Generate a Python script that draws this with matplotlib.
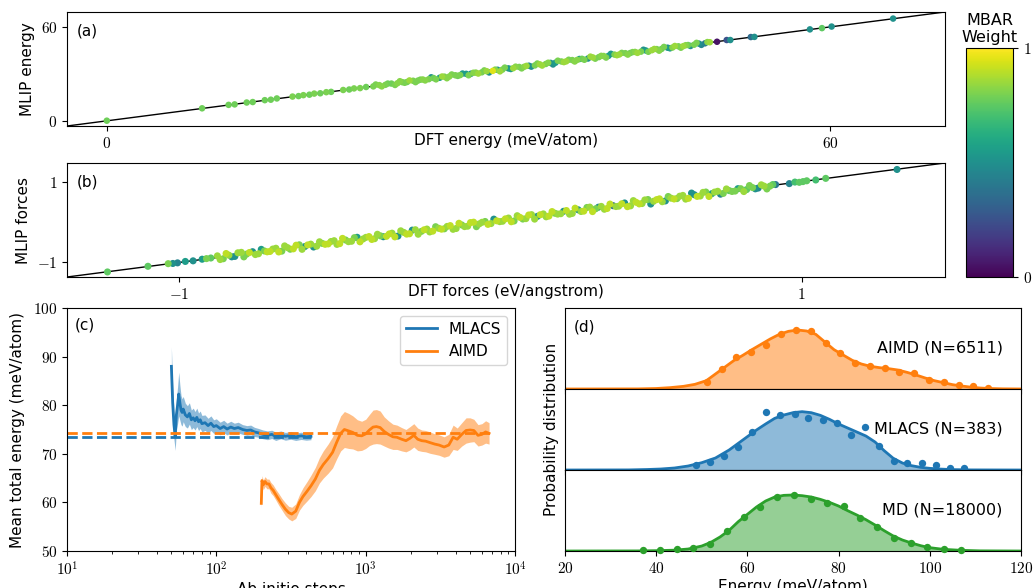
import math
import matplotlib
matplotlib.use("Agg")
import matplotlib.pyplot as plt
from matplotlib.ticker import FuncFormatter, NullFormatter
from matplotlib.cm import ScalarMappable
from matplotlib.colors import Normalize

plt.rcParams["font.family"] = "DejaVu Sans"
plt.rcParams["mathtext.fontset"] = "cm"
plt.rcParams["font.size"] = 11

# ---- (a) energies, meV/atom ----
energy_dft = [
    0.0, 7.9, 10.1, 10.6, 11.6, 12.1, 13.1, 13.6, 14.1, 15.4,
    15.9, 16.3, 16.8, 17.2, 17.7, 18.2, 18.6, 19.6, 20.1, 20.5,
    21.0, 21.5, 22.1, 22.6, 23.1, 23.6, 24.1, 24.5, 24.9, 25.4,
    25.8, 26.2, 26.7, 27.1, 27.6, 28.0, 28.4, 28.9, 29.3, 29.8,
    30.2, 30.6, 31.1, 31.5, 32.0, 32.4, 32.8, 33.3, 33.7, 34.2,
    34.6, 35.0, 35.5, 35.9, 36.4, 36.8, 37.2, 37.7, 38.1, 38.6,
    39.0, 39.4, 39.9, 40.3, 40.8, 41.2, 41.6, 42.1, 42.5, 43.0,
    43.4, 43.8, 44.3, 44.7, 45.2, 45.6, 46.0, 46.5, 46.9, 47.4,
    47.8, 48.2, 48.7, 49.1, 49.6, 50.0, 50.6, 51.4, 51.7, 53.4,
    53.7, 58.3, 59.3, 60.1, 65.2,
    22.3, 22.8, 23.3, 23.9, 24.3, 24.7, 25.1, 25.6, 26.0, 26.4,
    26.9, 27.3, 27.8, 28.2, 28.6, 29.1, 29.5, 30.0, 30.4, 30.8,
    31.3, 31.7, 32.2, 32.6, 33.0, 33.5, 33.9, 34.4, 34.8, 35.2,
    35.7, 36.1, 36.6, 37.0, 37.4, 37.9, 38.3, 38.8, 39.2, 39.6,
    40.1, 40.5, 41.0, 41.4, 41.8, 42.3, 42.7, 43.2, 43.6, 44.0,
    44.5, 44.9, 45.4, 45.8, 46.2, 46.7, 47.1, 47.6, 48.0, 48.4,
    48.9, 49.3, 49.8,
]
energy_mlip = [
    0.1, 8.0, 10.2, 10.5, 11.7, 12.0, 13.2, 13.5, 14.3, 15.5,
    15.8, 16.4, 16.7, 17.4, 17.6, 18.3, 18.5, 19.7, 20.0, 20.7,
    20.9, 21.6, 22.0, 22.8, 23.0, 23.8, 24.0, 24.7, 24.8, 25.6,
    25.7, 26.4, 26.6, 27.3, 27.5, 28.2, 28.3, 29.1, 29.2, 30.0,
    30.1, 30.8, 31.0, 31.7, 31.9, 32.6, 32.7, 33.5, 33.6, 34.4,
    34.5, 35.2, 35.4, 36.1, 36.3, 37.0, 37.1, 37.9, 38.0, 38.8,
    38.9, 39.6, 39.8, 40.5, 40.7, 41.4, 41.5, 42.3, 42.4, 43.2,
    43.3, 44.0, 44.2, 44.9, 45.1, 45.8, 45.9, 46.7, 46.8, 47.6,
    47.7, 48.4, 48.6, 49.3, 49.5, 50.2, 50.5, 51.6, 51.6, 53.5,
    53.6, 58.4, 59.2, 60.2, 65.3,
    23.2, 22.0, 23.8, 22.9, 25.3, 24.3, 25.8, 24.7, 26.3, 25.8,
    27.8, 26.5, 28.3, 27.2, 29.6, 28.7, 30.2, 29.1, 30.7, 30.2,
    32.2, 30.9, 32.7, 31.6, 34.0, 33.1, 34.6, 33.5, 35.1, 34.6,
    36.6, 35.3, 37.1, 36.0, 38.4, 37.5, 39.0, 37.9, 39.5, 39.0,
    41.0, 39.7, 41.5, 40.4, 42.8, 41.9, 43.4, 42.3, 43.9, 43.4,
    45.4, 44.1, 45.9, 44.8, 47.2, 46.3, 47.8, 46.7, 48.3, 47.8,
    49.8, 48.5, 50.3,
]
energy_weight = [
    0.78, 0.78, 0.78, 0.78, 0.78, 0.78, 0.78, 0.78, 0.78, 0.80,
    0.78, 0.80, 0.78, 0.80, 0.78, 0.80, 0.78, 0.80, 0.78, 0.80,
    0.80, 0.78, 0.80, 0.82, 0.80, 0.78, 0.82, 0.80, 0.78, 0.80,
    0.80, 0.82, 0.80, 0.78, 0.55, 0.80, 0.82, 0.80, 0.80, 0.55,
    0.50, 0.82, 0.80, 0.85, 0.95, 0.50, 0.80, 0.50, 0.85, 0.80,
    0.82, 0.50, 0.80, 0.85, 0.80, 0.50, 0.55, 0.80, 0.85, 0.80,
    0.82, 0.78, 0.50, 0.85, 0.80, 0.82, 0.55, 0.80, 0.85, 0.80,
    0.78, 0.82, 0.80, 0.55, 0.85, 0.80, 0.78, 0.50, 0.82, 0.80,
    0.85, 0.78, 0.80, 0.50, 0.40, 0.85, 0.05, 0.25, 0.50, 0.35,
    0.50, 0.50, 0.75, 0.50, 0.50,
    0.80, 0.82, 0.78, 0.80, 0.82, 0.80, 0.85, 0.80, 0.78, 0.82,
    0.50, 0.80, 0.85, 0.82, 0.80, 0.78, 0.55, 0.80, 0.82, 0.85,
    0.80, 0.50, 0.82, 0.85, 0.80, 0.55, 0.82, 0.80, 0.85, 0.50,
    0.80, 0.85, 0.82, 0.50, 0.80, 0.85, 0.80, 0.82, 0.55, 0.80,
    0.85, 0.80, 0.82, 0.80, 0.55, 0.85, 0.80, 0.82, 0.80, 0.85,
    0.50, 0.80, 0.85, 0.82, 0.80, 0.55, 0.85, 0.80, 0.82, 0.50,
    0.80, 0.45, 0.82,
]

# ---- (b) forces, eV/angstrom ----
force_dft = [
    -1.230, -1.100, -1.035, -1.020, -1.005, -0.980, -0.955, -0.926, -0.912, -0.898,
    -0.877, -0.858, -0.840, -0.821, -0.800, -0.783, -0.764, -0.745, -0.726, -0.708,
    -0.689, -0.670, -0.652, -0.633, -0.614, -0.596, -0.577, -0.558, -0.540, -0.521,
    -0.502, -0.484, -0.465, -0.446, -0.428, -0.409, -0.390, -0.372, -0.353, -0.334,
    -0.316, -0.297, -0.278, -0.260, -0.241, -0.222, -0.204, -0.185, -0.166, -0.148,
    -0.129, -0.110, -0.092, -0.073, -0.054, -0.036, -0.017, 0.002, 0.020, 0.039,
    0.058, 0.076, 0.095, 0.114, 0.132, 0.151, 0.170, 0.188, 0.207, 0.226,
    0.244, 0.263, 0.282, 0.300, 0.319, 0.338, 0.356, 0.375, 0.394, 0.412,
    0.431, 0.450, 0.468, 0.487, 0.506, 0.524, 0.543, 0.562, 0.580, 0.599,
    0.618, 0.636, 0.655, 0.674, 0.692, 0.711, 0.730, 0.748, 0.767, 0.786,
    0.804, 0.823, 0.842, 0.860, 0.879, 0.898, 0.916, 0.960, 0.978, 0.992,
    1.004, 1.016, 1.045, 1.077, 1.306,
    -0.868, -0.849, -0.831, -0.811, -0.792, -0.774, -0.755, -0.736, -0.717, -0.699,
    -0.680, -0.661, -0.643, -0.624, -0.605, -0.587, -0.568, -0.549, -0.531, -0.512,
    -0.493, -0.475, -0.456, -0.437, -0.419, -0.400, -0.381, -0.363, -0.344, -0.325,
    -0.307, -0.288, -0.269, -0.251, -0.232, -0.213, -0.195, -0.176, -0.157, -0.139,
    -0.120, -0.101, -0.083, -0.064, -0.045, -0.027, -0.008, 0.011, 0.030, 0.048,
    0.067, 0.086, 0.104, 0.123, 0.142, 0.160, 0.179, 0.198, 0.216, 0.235,
    0.254, 0.272, 0.291, 0.310, 0.328, 0.347, 0.366, 0.384, 0.403, 0.422,
    0.440, 0.459, 0.478, 0.496, 0.515, 0.534, 0.552, 0.571, 0.590, 0.608,
    0.627, 0.646, 0.664, 0.683, 0.702, 0.720, 0.739, 0.758, 0.776, 0.795,
    0.814, 0.832, 0.851, 0.870, 0.888, 0.907,
]
force_mlip = [
    -1.235, -1.095, -1.030, -1.025, -1.010, -0.975, -0.960, -0.920, -0.905, -0.890,
    -0.837, -0.908, -0.820, -0.851, -0.750, -0.793, -0.734, -0.785, -0.716, -0.728,
    -0.649, -0.720, -0.632, -0.663, -0.564, -0.606, -0.547, -0.598, -0.530, -0.541,
    -0.462, -0.534, -0.445, -0.476, -0.378, -0.419, -0.360, -0.412, -0.343, -0.354,
    -0.276, -0.347, -0.258, -0.290, -0.191, -0.232, -0.174, -0.225, -0.156, -0.168,
    -0.089, -0.160, -0.072, -0.103, -0.004, -0.046, 0.013, -0.038, 0.030, 0.019,
    0.098, 0.026, 0.115, 0.084, 0.182, 0.141, 0.200, 0.148, 0.217, 0.206,
    0.284, 0.213, 0.302, 0.270, 0.369, 0.328, 0.386, 0.335, 0.404, 0.392,
    0.471, 0.400, 0.488, 0.457, 0.556, 0.514, 0.573, 0.522, 0.590, 0.579,
    0.658, 0.586, 0.675, 0.644, 0.742, 0.701, 0.760, 0.708, 0.777, 0.766,
    0.824, 0.803, 0.852, 0.840, 0.889, 0.888, 0.926, 0.950, 0.988, 0.982,
    1.000, 1.020, 1.040, 1.080, 1.300,
    -0.928, -0.779, -0.861, -0.761, -0.862, -0.754, -0.805, -0.676, -0.737, -0.669,
    -0.740, -0.591, -0.673, -0.574, -0.675, -0.567, -0.618, -0.489, -0.551, -0.482,
    -0.553, -0.405, -0.486, -0.387, -0.489, -0.380, -0.431, -0.303, -0.364, -0.295,
    -0.367, -0.218, -0.299, -0.201, -0.302, -0.193, -0.245, -0.116, -0.177, -0.109,
    -0.180, -0.031, -0.113, -0.014, -0.115, -0.007, -0.058, 0.071, 0.010, 0.078,
    0.007, 0.156, 0.074, 0.173, 0.072, 0.180, 0.129, 0.258, 0.196, 0.265,
    0.194, 0.342, 0.261, 0.360, 0.258, 0.367, 0.316, 0.444, 0.383, 0.452,
    0.380, 0.529, 0.448, 0.546, 0.445, 0.554, 0.502, 0.631, 0.570, 0.638,
    0.567, 0.716, 0.634, 0.733, 0.632, 0.740, 0.689, 0.818, 0.756, 0.825,
    0.754, 0.902, 0.821, 0.920, 0.818, 0.927,
]
force_weight = [
    0.75, 0.75, 0.80, 0.50, 0.45, 0.55, 0.50, 0.55, 0.80, 0.75,
    0.85, 0.80, 0.85, 0.50, 0.85, 0.80, 0.50, 0.85, 0.80, 0.90,
    0.85, 0.80, 0.85, 0.90, 0.80, 0.50, 0.85, 0.85, 0.80, 0.90,
    0.85, 0.90, 0.80, 0.85, 0.55, 0.85, 0.90, 0.85, 0.80, 0.90,
    0.85, 0.50, 0.85, 0.90, 0.85, 0.80, 0.85, 0.90, 0.85, 0.80,
    0.90, 0.85, 0.80, 0.85, 0.90, 0.85, 0.80, 0.85, 0.90, 0.85,
    0.85, 0.80, 0.90, 0.85, 0.85, 0.50, 0.85, 0.90, 0.80, 0.85,
    0.90, 0.85, 0.50, 0.90, 0.85, 0.80, 0.85, 0.90, 0.35, 0.85,
    0.50, 0.85, 0.90, 0.85, 0.80, 0.85, 0.90, 0.50, 0.85, 0.80,
    0.85, 0.90, 0.50, 0.85, 0.80, 0.55, 0.85, 0.80, 0.75, 0.80,
    0.80, 0.75, 0.80, 0.45, 0.85, 0.80, 0.40, 0.45, 0.70, 0.75,
    0.75, 0.75, 0.70, 0.75, 0.50,
    0.85, 0.90, 0.50, 0.85, 0.80, 0.90, 0.85, 0.55, 0.90, 0.85,
    0.90, 0.85, 0.80, 0.90, 0.85, 0.90, 0.50, 0.85, 0.90, 0.85,
    0.85, 0.90, 0.85, 0.80, 0.90, 0.85, 0.90, 0.85, 0.50, 0.90,
    0.90, 0.85, 0.90, 0.50, 0.85, 0.90, 0.85, 0.80, 0.90, 0.85,
    0.85, 0.90, 0.85, 0.90, 0.80, 0.85, 0.90, 0.50, 0.85, 0.90,
    0.90, 0.85, 0.80, 0.90, 0.85, 0.90, 0.85, 0.90, 0.85, 0.50,
    0.85, 0.90, 0.85, 0.80, 0.90, 0.50, 0.85, 0.90, 0.85, 0.90,
    0.90, 0.85, 0.90, 0.85, 0.50, 0.90, 0.85, 0.80, 0.90, 0.85,
    0.85, 0.50, 0.90, 0.85, 0.90, 0.85, 0.45, 0.85, 0.80, 0.55,
    0.85, 0.80, 0.50, 0.85, 0.80, 0.75,
]

# ---- (c) running mean of total energy ----
mlacs_steps = [50, 51, 52, 53, 54, 55, 56, 57, 58, 59, 60,
               62, 64, 66, 68, 70, 72, 74, 76, 78, 80,
               84, 88, 92, 96, 100,
               106, 112, 118, 125, 132, 140, 150, 160, 170, 180,
               192, 205, 220, 235, 250, 270, 290, 315, 340, 370, 400, 430]
mlacs_mean = [88.0, 80.5, 76.0, 73.5, 78.0, 80.0, 82.3, 80.5, 79.0, 78.5, 79.2,
              78.0, 77.6, 78.3, 77.0, 77.4, 76.8, 77.5, 76.6, 77.0, 76.2,
              76.4, 75.8, 76.3, 75.6, 75.8,
              75.2, 75.6, 75.1, 75.5, 75.2, 75.4, 75.0, 74.8, 74.9, 74.5,
              74.3, 74.0, 73.8, 74.0, 73.6, 73.9, 73.6, 73.8, 73.5, 73.7, 73.5, 73.6]
mlacs_err = [4.0, 3.5, 3.0, 2.8, 3.2, 3.8, 4.5, 3.6, 3.0, 2.8, 2.6,
             2.4, 2.3, 2.2, 2.0, 2.0, 1.9, 1.9, 1.8, 1.8, 1.7,
             1.6, 1.5, 1.5, 1.4, 1.4,
             1.3, 1.3, 1.2, 1.2, 1.1, 1.1, 1.0, 1.0, 1.0, 0.95,
             0.9, 0.9, 0.9, 0.85, 0.85, 0.8, 0.8, 0.8, 0.75, 0.75, 0.7, 0.7]

aimd_steps = [200, 202, 206, 212, 218, 225, 232, 240, 250, 262,
              275, 290, 305, 320, 340, 360, 380, 405, 430, 460,
              490, 520, 560, 600, 640, 680, 720, 770, 820, 880,
              940, 1000, 1060, 1120, 1180, 1250, 1330, 1420, 1520, 1620,
              1740, 1860, 1980, 2100, 2230, 2370, 2520, 2700, 2900, 3100,
              3350, 3600, 3850, 4100, 4400, 4700, 5000, 5300, 5650, 6000,
              6350, 6700]
aimd_mean = [59.8, 64.5, 63.6, 64.3, 63.8, 63.8, 63.0, 62.5, 61.6, 60.6,
             59.6, 58.6, 57.9, 57.6, 58.2, 60.0, 61.2, 62.3, 63.4, 64.8,
             66.6, 67.8, 69.0, 70.3, 72.4, 74.2, 75.0, 74.7, 74.4, 73.8,
             73.7, 74.1, 74.9, 75.5, 75.6, 75.4, 74.6, 74.0, 73.5, 73.4,
             73.0, 72.7, 73.2, 73.8, 73.0, 72.7, 72.6, 72.3, 72.0, 71.8,
             71.4, 71.8, 73.4, 73.0, 74.0, 74.8, 74.9, 74.8, 73.8, 74.0,
             74.5, 74.2]
aimd_err = [1.0, 1.0, 1.0, 1.0, 1.0, 1.0, 1.1, 1.1, 1.1, 1.2,
            1.2, 1.3, 1.3, 1.4, 1.5, 1.6, 1.8, 2.0, 2.2, 2.4,
            2.6, 2.8, 3.0, 3.2, 3.4, 3.6, 3.7, 3.6, 3.4, 3.2,
            3.0, 3.0, 3.2, 3.5, 3.5, 3.4, 3.0, 2.8, 2.6, 2.5,
            2.4, 2.3, 2.4, 2.4, 2.3, 2.2, 2.2, 2.2, 2.1, 2.1,
            2.1, 2.2, 2.5, 2.3, 2.4, 2.6, 2.5, 2.3, 2.2, 2.2,
            2.3, 2.2]
mlacs_ref = 73.5
aimd_ref = 74.25

# ---- (d) energy distributions (density x 1e-3) ----
aimd_kde_e = [20, 36, 40, 43, 46, 48.5, 51, 53, 55, 57, 59, 61, 63, 65, 67, 69, 71, 73, 75, 77,
              79, 81, 83, 85, 87, 89, 91, 93, 95, 97, 99, 101, 103, 105, 107, 109, 111, 113, 116, 120]
aimd_kde = [0.0, 0.06, 0.3, 0.8, 1.6, 2.8, 5.0, 9.0, 13.0, 17.0, 20.2, 23.6, 26.8, 30.0, 32.8, 34.6,
            35.4, 34.8, 32.8, 28.2, 23.6, 20.4, 17.2, 15.0, 13.6, 12.8, 12.2, 11.4, 10.0, 8.4, 6.6,
            5.0, 3.8, 2.6, 1.8, 1.1, 0.6, 0.3, 0.1, 0.02]
aimd_hist_e = [51.2, 54.4, 57.6, 60.9, 64.1, 67.4, 70.7, 73.9, 77.2, 80.3,
               83.6, 86.9, 90.1, 93.3, 96.6, 99.8, 103.1, 106.4, 109.5, 112.8]
aimd_hist = [4.0, 12.0, 19.0, 22.0, 26.6, 33.0, 35.6, 35.0, 27.4, 21.6,
             15.8, 13.6, 12.6, 10.4, 9.8, 5.6, 4.0, 2.4, 1.8, 0.4]

mlacs_kde_e = [20, 34, 38, 41, 44, 47, 50, 53, 56, 58, 60, 62, 64, 66, 68, 70, 72, 74, 76, 78,
               80, 82, 84, 86, 88, 90, 92, 94, 96, 98, 100, 102, 105, 109, 120]
mlacs_kde = [0.0, 0.06, 0.3, 0.6, 1.2, 2.4, 4.4, 7.2, 12.0, 16.0, 20.0, 24.0, 27.6, 31.0, 33.0,
             34.4, 35.0, 34.4, 32.8, 30.4, 27.6, 25.2, 22.8, 20.4, 16.8, 11.6, 7.0, 4.2, 2.6, 1.6,
             1.0, 0.6, 0.24, 0.06, 0.0]
mlacs_hist_e = [48.7, 51.7, 54.8, 57.9, 61.1, 64.1, 67.2, 70.4, 73.4, 76.5,
                79.6, 82.7, 85.9, 88.9, 92.1, 95.1, 98.3, 101.4, 104.5, 107.6]
mlacs_hist = [3.2, 5.0, 8.4, 13.6, 23.0, 34.8, 33.2, 33.8, 31.2, 30.0,
              28.0, 21.2, 25.6, 14.2, 5.6, 4.2, 4.2, 3.2, 1.0, 1.0]

md_kde_e = [20, 36, 40, 44, 47, 50, 52, 54, 56, 58, 60, 62, 64, 66, 68, 70, 72, 74, 76, 78,
            80, 82, 84, 86, 88, 90, 92, 94, 96, 98, 100, 103, 107, 111, 120]
md_kde = [0.0, 0.06, 0.2, 0.5, 1.2, 3.0, 5.2, 8.4, 12.4, 17.6, 22.0, 26.4, 30.0, 32.4, 33.4,
          33.6, 33.2, 32.4, 31.0, 29.2, 27.0, 24.2, 21.6, 18.8, 15.6, 12.2, 9.0, 6.6, 4.8, 3.2,
          2.0, 1.0, 0.4, 0.1, 0.0]
md_hist_e = [37.2, 40.9, 44.5, 48.1, 51.9, 55.5, 59.2, 62.8, 66.5, 70.2,
             73.9, 77.5, 81.2, 84.8, 88.5, 92.1, 95.9, 99.5, 103.2, 106.8]
md_hist = [0.6, 0.6, 1.4, 2.0, 4.4, 12.0, 20.4, 26.4, 32.6, 33.4,
           31.2, 29.0, 27.2, 20.0, 14.4, 7.6, 5.0, 2.6, 1.0, 0.4]

BLUE, ORANGE, GREEN = "#1f77b4", "#ff7f0e", "#2ca02c"
tex_fmt = FuncFormatter(lambda v, p: "$%g$" % v)
log_fmt = FuncFormatter(lambda v, p: "$10^{%d}$" % round(math.log10(v)))

fig = plt.figure(figsize=(10.34, 5.88), dpi=100)
norm = Normalize(0, 1)

# ---- parity plots ----
ax_a = fig.add_axes([0.0648, 0.7857, 0.8491, 0.1939])
ax_b = fig.add_axes([0.0648, 0.5289, 0.8491, 0.1939])
parity = [
    (ax_a, energy_dft, energy_mlip, energy_weight, (-3.3, 69.5), [0, 60], 22,
     "DFT energy (meV/atom)", "MLIP energy", "(a)"),
    (ax_b, force_dft, force_mlip, force_weight, (-1.36, 1.46), [-1, 1], 26,
     "DFT forces (eV/angstrom)", "MLIP forces", "(b)"),
]
for ax, xs, ys, w, lim, ticks, size, xlab, ylab, tag in parity:
    # low weights first so that heavy points sit on top
    order = sorted(range(len(w)), key=lambda k: w[k])
    ax.plot(lim, lim, color="black", lw=1, zorder=1)
    ax.scatter([xs[k] for k in order], [ys[k] for k in order], c=[w[k] for k in order],
               cmap="viridis", norm=norm, s=size, linewidths=0, zorder=2)
    ax.set_xlim(lim)
    ax.set_ylim(lim)
    ax.set_xticks(ticks)
    ax.set_yticks(ticks)
    ax.xaxis.set_major_formatter(tex_fmt)
    ax.yaxis.set_major_formatter(tex_fmt)
    ax.tick_params(labelsize=11)
    ax.set_xlabel(xlab, labelpad=-13)
    ax.set_ylabel(ylab)
    ax.text(0.011, 0.9, tag, transform=ax.transAxes, va="top", ha="left")

cax = fig.add_axes([0.9342, 0.5289, 0.0455, 0.3895])
cb = fig.colorbar(ScalarMappable(norm=norm, cmap="viridis"), cax=cax, ticks=[0, 1])
cb.ax.yaxis.set_major_formatter(tex_fmt)
cb.ax.tick_params(labelsize=11)
cb.ax.set_title("MBAR\nWeight", fontsize=11.5, pad=4)

# ---- (c) convergence ----
ax_c = fig.add_axes([0.0648, 0.0629, 0.4333, 0.4133])
ax_c.fill_between(mlacs_steps, [m - e for m, e in zip(mlacs_mean, mlacs_err)],
                  [m + e for m, e in zip(mlacs_mean, mlacs_err)], color=BLUE, alpha=0.5, lw=0)
ax_c.plot(mlacs_steps, mlacs_mean, color=BLUE, lw=2, label="MLACS")
ax_c.fill_between(aimd_steps, [m - e for m, e in zip(aimd_mean, aimd_err)],
                  [m + e for m, e in zip(aimd_mean, aimd_err)], color=ORANGE, alpha=0.5, lw=0)
ax_c.plot(aimd_steps, aimd_mean, color=ORANGE, lw=2, label="AIMD")
ax_c.hlines(mlacs_ref, 10, mlacs_steps[-1], colors=BLUE, linestyles="--", lw=2)
ax_c.hlines(aimd_ref, 10, aimd_steps[-1], colors=ORANGE, linestyles="--", lw=2)
ax_c.set_xscale("log")
ax_c.set_xlim(10, 1e4)
ax_c.set_ylim(50, 100)
ax_c.set_yticks([50, 60, 70, 80, 90, 100])
ax_c.yaxis.set_major_formatter(tex_fmt)
ax_c.xaxis.set_major_formatter(log_fmt)
ax_c.xaxis.set_minor_formatter(NullFormatter())
ax_c.tick_params(labelsize=11)
ax_c.set_xlabel("Ab initio steps", labelpad=2)
ax_c.set_ylabel("Mean total energy (meV/atom)", labelpad=6)
ax_c.legend(loc="upper right", fontsize=11)
ax_c.text(0.018, 0.96, "(c)", transform=ax_c.transAxes, va="top", ha="left")

# ---- (d) distributions ----
dists = [
    (aimd_kde_e, aimd_kde, aimd_hist_e, aimd_hist, ORANGE, "AIMD (N=6511)"),
    (mlacs_kde_e, mlacs_kde, mlacs_hist_e, mlacs_hist, BLUE, "MLACS (N=383)"),
    (md_kde_e, md_kde, md_hist_e, md_hist, GREEN, "MD (N=18000)"),
]
h = 0.4133 / 3
axes_d = []
for i, (ke, kv, he, hv, col, lab) in enumerate(dists):
    ax = fig.add_axes([0.5464, 0.0629 + (2 - i) * h, 0.4410, h],
                      sharex=axes_d[0] if axes_d else None)
    ax.fill_between(ke, 0, kv, color=col, alpha=0.5, lw=0)
    ax.plot(ke, kv, color=col, lw=2)
    ax.scatter(he, hv, color=col, s=28, linewidths=0, clip_on=False, zorder=3)
    ax.set_ylim(0, 48.6)
    ax.set_yticks([])
    ax.text(0.96, 0.51, lab, transform=ax.transAxes, ha="right", va="center", fontsize=11.5)
    if i < 2:
        ax.tick_params(labelbottom=False)
    axes_d.append(ax)
axes_d[0].set_xlim(20, 120)
axes_d[-1].set_xticks([20, 40, 60, 80, 100, 120])
axes_d[-1].xaxis.set_major_formatter(tex_fmt)
axes_d[-1].tick_params(labelsize=11)
axes_d[-1].set_xlabel("Energy (meV/atom)", labelpad=2)
axes_d[1].set_ylabel("Probability distribution")
axes_d[0].text(0.02, 0.86, "(d)", transform=axes_d[0].transAxes, va="top", ha="left")

fig.savefig("out.png", dpi=100)
